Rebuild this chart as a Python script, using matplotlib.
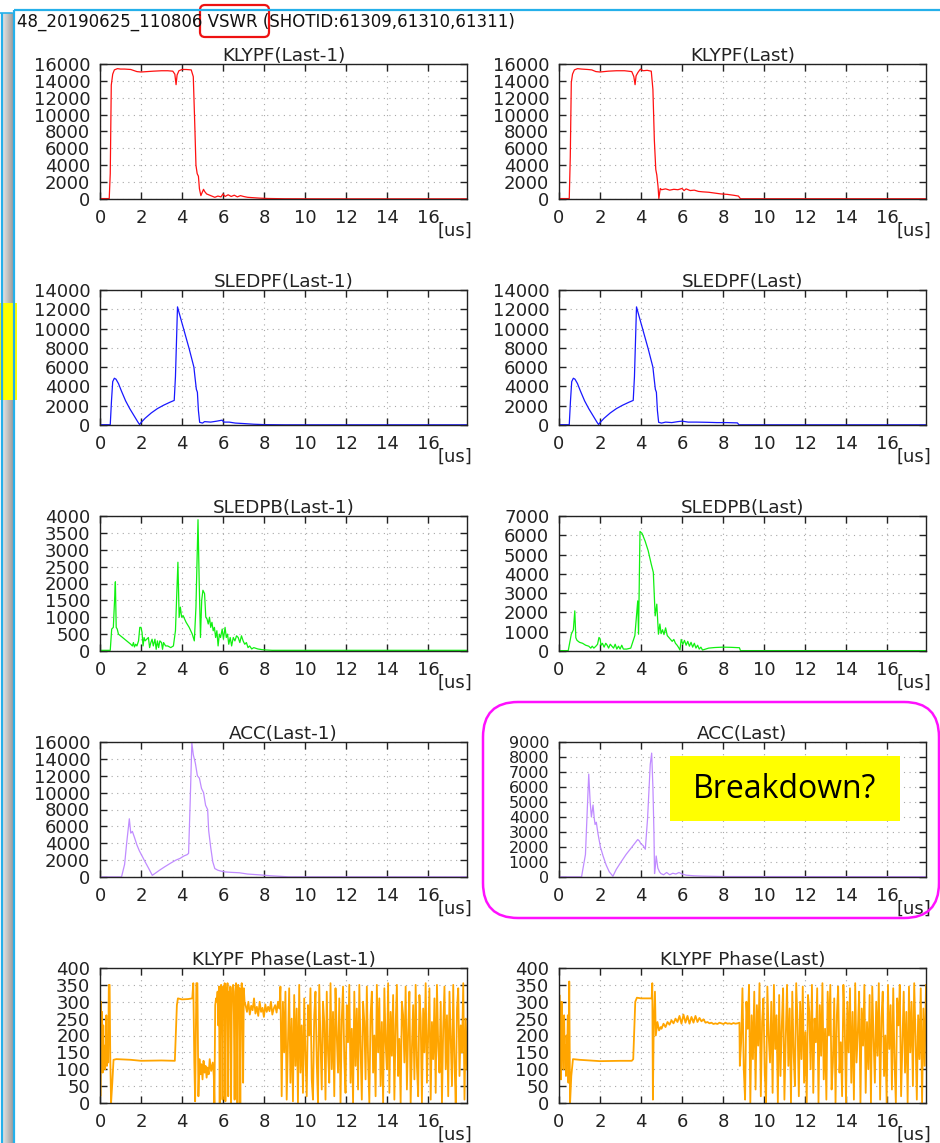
import numpy as np
import matplotlib
matplotlib.use('Agg')
import matplotlib.pyplot as plt
from matplotlib.patches import FancyBboxPatch, Rectangle
from matplotlib.transforms import offset_copy

# waveforms: (time [us], value) pairs
klypf_prev = [(0, 50), (0.45, 50), (0.5, 3000), (0.55, 13500), (0.62, 14800), (0.7, 15300), (0.85, 15450),
              (1.0, 15400), (1.2, 15400), (1.5, 15350), (1.8, 15100), (2.0, 15050), (2.3, 15100), (2.6, 15150),
              (3.0, 15200), (3.3, 15200), (3.55, 15150), (3.65, 14800), (3.71, 13550), (3.76, 14700),
              (3.85, 15200), (4.0, 15350), (4.2, 15350), (4.45, 15300), (4.55, 14500), (4.62, 9000),
              (4.68, 4000), (4.74, 3000), (4.8, 2700), (4.85, 1200), (4.92, 400), (4.97, 700), (5.05, 1150),
              (5.1, 900), (5.2, 600), (5.3, 500), (5.45, 350), (5.6, 200), (5.75, 350), (5.9, 250), (6.0, 600),
              (6.1, 300), (6.25, 500), (6.4, 300), (6.55, 450), (6.7, 250), (6.85, 400), (7.0, 300), (7.2, 200),
              (7.5, 150), (7.8, 100), (8.2, 60), (9.0, 30), (11.0, 20), (17.9, 20)]
klypf_last = [(0, 50), (0.5, 50), (0.55, 5000), (0.6, 13800), (0.66, 14800), (0.75, 15300), (0.9, 15450),
              (1.1, 15400), (1.4, 15350), (1.6, 15300), (1.8, 15100), (2.0, 15050), (2.4, 15150), (2.8, 15200),
              (3.2, 15200), (3.55, 15100), (3.65, 14500), (3.71, 13550), (3.76, 14600), (3.85, 15000),
              (3.97, 15400), (4.1, 15200), (4.3, 15250), (4.5, 15150), (4.58, 13000), (4.65, 7000), (4.72, 3500),
              (4.77, 2850), (4.83, 1500), (4.87, 50), (4.94, 1250), (5.0, 1100), (5.2, 1200), (5.4, 1050),
              (5.6, 1150), (5.8, 1100), (6.0, 1250), (6.1, 1000), (6.2, 1200), (6.4, 1000), (6.6, 1050),
              (6.8, 900), (7.0, 850), (7.3, 800), (7.6, 700), (7.9, 600), (8.2, 550), (8.5, 450), (8.75, 350),
              (8.85, 30), (9.0, 30), (17.9, 30)]

sledpf_prev = [(0, 30), (0.5, 30), (0.56, 2500), (0.62, 4500), (0.7, 4850), (0.78, 4750), (0.9, 4300),
               (1.05, 3500), (1.25, 2500), (1.45, 1700), (1.65, 1000), (1.85, 300), (1.93, 50), (2.0, 250),
               (2.2, 700), (2.5, 1250), (2.8, 1700), (3.1, 2050), (3.4, 2350), (3.62, 2550), (3.68, 5000),
               (3.78, 12250), (3.85, 11700), (4.1, 9800), (4.35, 7900), (4.58, 6000), (4.63, 5000), (4.7, 3700),
               (4.75, 3400), (4.8, 1500), (4.86, 280), (5.0, 200), (5.1, 350), (5.4, 300), (5.7, 400),
               (5.95, 500), (6.05, 300), (6.3, 300), (6.6, 200), (7.0, 150), (7.5, 80), (8.0, 40), (9.0, 20),
               (17.9, 20)]
sledpf_last = [(0, 30), (0.5, 30), (0.56, 2500), (0.62, 4500), (0.7, 4850), (0.78, 4750), (0.9, 4300),
               (1.05, 3500), (1.25, 2500), (1.45, 1700), (1.65, 1000), (1.85, 300), (1.93, 50), (2.0, 250),
               (2.2, 700), (2.5, 1250), (2.8, 1700), (3.1, 2050), (3.4, 2350), (3.62, 2550), (3.68, 5000),
               (3.78, 12250), (3.85, 11700), (4.1, 9800), (4.35, 7900), (4.58, 6000), (4.63, 5000), (4.7, 3700),
               (4.75, 3400), (4.8, 1500), (4.86, 280), (5.0, 200), (5.2, 300), (5.5, 250), (5.8, 350),
               (6.0, 400), (6.3, 300), (6.7, 300), (7.2, 280), (7.7, 250), (8.2, 250), (8.7, 220), (8.78, 20),
               (17.9, 20)]

sledpb_prev = [(0, 20), (0.5, 20), (0.57, 650), (0.65, 700), (0.71, 1500), (0.75, 2050), (0.79, 700),
               (0.84, 650), (0.9, 500), (1.0, 450), (1.1, 400), (1.2, 350), (1.3, 300), (1.4, 250), (1.5, 200),
               (1.58, 150), (1.63, 250), (1.68, 120), (1.74, 200), (1.8, 150), (1.88, 300), (1.94, 700),
               (2.0, 700), (2.05, 550), (2.1, 150), (2.15, 400), (2.2, 300), (2.28, 350), (2.36, 400), (2.42, 100),
               (2.48, 250), (2.54, 350), (2.6, 150), (2.68, 350), (2.74, 50), (2.8, 300), (2.86, 100), (2.92, 300),
               (3.0, 250), (3.05, 50), (3.1, 250), (3.2, 150), (3.3, 150), (3.45, 100), (3.58, 150), (3.68, 600),
               (3.8, 2630), (3.86, 1000), (3.92, 1300), (3.98, 1000), (4.05, 1050), (4.2, 850), (4.35, 700),
               (4.5, 500), (4.6, 300), (4.68, 1300), (4.78, 3890), (4.84, 2000), (4.9, 400), (4.96, 1500),
               (5.02, 1800), (5.1, 1700), (5.16, 1000), (5.22, 950), (5.28, 800), (5.34, 1000), (5.4, 700),
               (5.46, 850), (5.52, 600), (5.58, 700), (5.64, 400), (5.7, 600), (5.76, 150), (5.82, 500),
               (5.88, 400), (5.96, 650), (6.02, 350), (6.1, 700), (6.16, 400), (6.22, 500), (6.28, 200),
               (6.35, 400), (6.42, 150), (6.5, 400), (6.58, 300), (6.66, 450), (6.74, 400), (6.82, 250),
               (6.9, 450), (6.98, 300), (7.06, 200), (7.14, 250), (7.22, 100), (7.3, 150), (7.4, 60), (7.5, 100),
               (7.7, 60), (7.9, 40), (8.1, 30), (8.4, 20), (17.9, 20)]
sledpb_last = [(0, 20), (0.45, 20), (0.6, 870), (0.7, 1100), (0.77, 2080), (0.82, 690), (0.88, 550),
               (1.0, 450), (1.15, 400), (1.3, 300), (1.45, 250), (1.55, 150), (1.62, 250), (1.7, 150), (1.8, 250),
               (1.88, 350), (1.95, 700), (2.0, 650), (2.05, 300), (2.12, 400), (2.2, 200), (2.28, 400), (2.35, 300),
               (2.42, 150), (2.5, 350), (2.58, 250), (2.66, 150), (2.74, 350), (2.82, 100), (2.9, 250), (2.98, 100),
               (3.06, 300), (3.14, 100), (3.3, 100), (3.5, 150), (3.7, 800), (3.84, 2600), (3.88, 870),
               (3.95, 6200), (4.05, 6100), (4.2, 5700), (4.35, 5200), (4.5, 4500), (4.6, 4080), (4.69, 1820),
               (4.77, 2430), (4.85, 870), (4.92, 1400), (4.98, 900), (5.05, 1100), (5.12, 850), (5.2, 1200),
               (5.28, 800), (5.36, 700), (5.44, 600), (5.52, 500), (5.6, 600), (5.68, 400), (5.76, 300),
               (5.84, 170), (5.9, 50), (5.96, 600), (6.04, 350), (6.12, 550), (6.2, 300), (6.28, 500), (6.36, 250),
               (6.44, 450), (6.52, 200), (6.6, 400), (6.68, 150), (6.76, 300), (6.84, 100), (6.92, 200), (7.0, 50),
               (7.15, 100), (7.3, 150), (7.6, 180), (8.0, 200), (8.4, 190), (8.8, 170), (8.85, 20), (17.9, 20)]

acc_prev = [(0, 10), (1.05, 10), (1.2, 1500), (1.3, 4000), (1.43, 6900), (1.5, 5200), (1.58, 5400),
            (1.68, 4700), (1.8, 3800), (1.92, 3100), (2.05, 2500), (2.2, 1800), (2.4, 900), (2.55, 200),
            (2.7, 450), (2.9, 800), (3.15, 1200), (3.45, 1650), (3.7, 2000), (3.9, 2200), (4.1, 2500),
            (4.25, 2650), (4.32, 2800), (4.4, 9000), (4.48, 15900), (4.55, 14500), (4.65, 13500), (4.75, 12000),
            (4.85, 11700), (4.95, 10500), (5.05, 10000), (5.15, 8500), (5.25, 8000), (5.3, 5500), (5.4, 3500),
            (5.5, 1800), (5.6, 1000), (5.75, 800), (5.9, 700), (6.1, 600), (6.4, 550), (6.8, 500), (7.2, 350),
            (7.8, 250), (8.3, 150), (8.8, 80), (9.2, 20), (17.9, 20)]
acc_last = [(0, 10), (1.1, 10), (1.2, 800), (1.29, 1500), (1.45, 6860), (1.52, 5000), (1.58, 4000),
            (1.66, 4800), (1.72, 3900), (1.76, 3500), (1.82, 3650), (1.9, 2900), (1.94, 2600), (2.02, 2000),
            (2.15, 1400), (2.3, 800), (2.45, 350), (2.63, 50), (2.79, 500), (3.0, 950), (3.27, 1500),
            (3.5, 1900), (3.84, 2500), (3.92, 2400), (4.0, 2200), (4.1, 2100), (4.21, 1850), (4.32, 3900),
            (4.45, 7500), (4.52, 8260), (4.58, 6000), (4.63, 3000), (4.66, 230), (4.71, 900), (4.74, 1400),
            (4.82, 600), (4.9, 350), (4.97, 230), (5.1, 150), (5.25, 300), (5.4, 150), (5.55, 250), (5.7, 200),
            (5.85, 300), (6.0, 200), (6.2, 120), (6.6, 80), (7.0, 60), (8.0, 30), (17.9, 20)]

# klystron phase [deg]
phase_prev_head = [(0, 350), (0.02, 20), (0.05, 300), (0.08, 100), (0.1, 270), (0.13, 90), (0.16, 230),
                   (0.19, 120), (0.22, 170), (0.25, 100), (0.28, 140), (0.31, 260), (0.34, 110), (0.37, 180),
                   (0.4, 120), (0.43, 350), (0.47, 350), (0.5, 140), (0.54, 0), (0.6, 60), (0.66, 128),
                   (0.8, 130), (1.5, 128), (2.0, 125), (3.0, 126), (3.55, 125), (3.65, 125), (3.75, 290),
                   (3.8, 310), (4.0, 307), (4.3, 308), (4.5, 310), (4.55, 355), (4.6, 120), (4.64, 5), (4.7, 355),
                   (4.75, 355), (4.8, 20), (4.85, 130), (4.9, 85), (4.95, 115), (5.0, 70), (5.05, 125), (5.1, 90),
                   (5.15, 110), (5.2, 75), (5.25, 105), (5.3, 85), (5.35, 130), (5.42, 95), (5.5, 120), (5.55, 80),
                   (5.58, 0), (5.62, 290), (5.66, 310)]
phase_prev_burst = [300, 330, 230, 345, 0, 330, 350, 255, 10, 345, 300, 355, 5, 340, 310, 355, 20, 330, 290,
                    345, 0, 300, 340, 350, 260, 10, 330, 355, 300, 0, 350, 320, 340, 0, 310, 355, 280, 60, 340, 300]
phase_prev_ripple = [290, 270, 300, 262, 288, 275, 310, 265, 285, 258, 300, 270, 282, 255, 292, 270, 285, 272,
                     300, 262, 280, 290, 268, 300, 280]
phase_prev_tail = [345, 20, 300, 150, 330, 10, 180, 340, 60, 250, 5, 320, 110, 280, 0, 350, 90, 230, 30, 310,
                   140, 20, 290, 200, 340, 70, 10, 260, 330, 120, 0, 350, 180, 40, 300, 240, 10, 330, 150, 60,
                   355, 100, 270, 20, 340, 200, 90, 310, 0, 250, 345, 130, 30, 290, 180, 350, 60, 220, 0, 330,
                   110, 280, 40, 350, 160, 10, 300, 240, 70, 345, 130, 0, 260, 330, 90, 200, 20, 350, 150, 310,
                   50, 240, 0, 340, 180, 100, 355, 30, 270, 140, 320, 10, 230, 350, 80, 190, 0, 300, 260, 120,
                   345, 40, 210, 330, 0, 160, 290, 70, 350, 110, 20, 320, 250, 0, 280, 150, 355, 60, 200, 340,
                   10, 240, 130, 310, 30, 350, 170, 90, 300, 0, 220, 345, 100, 260, 20, 330, 190, 50, 350, 120,
                   0, 280, 340, 80, 230, 150, 355, 10, 250, 100]

phase_last_head = [(0, 50), (0.02, 320), (0.05, 100), (0.08, 280), (0.1, 70), (0.13, 300), (0.16, 140),
                   (0.19, 180), (0.22, 100), (0.25, 260), (0.28, 130), (0.31, 170), (0.34, 80), (0.37, 200),
                   (0.4, 150), (0.43, 260), (0.46, 60), (0.5, 360), (0.54, 0), (0.6, 80), (0.68, 130), (1.0, 128),
                   (1.5, 126), (2.0, 124), (3.0, 125), (3.55, 125), (3.62, 130), (3.72, 300), (3.8, 312),
                   (4.0, 310), (4.3, 310), (4.52, 310), (4.55, 355), (4.58, 10), (4.62, 230), (4.68, 330),
                   (4.72, 200), (4.8, 240), (4.88, 215), (4.96, 225)]
phase_last_ripple = [220, 235, 225, 240, 232, 245, 236, 250, 240, 258, 235, 262, 238, 258, 235, 255, 238, 258,
                     240, 252, 242, 248, 238, 240, 236, 238, 234, 236, 234, 238, 236, 234, 238, 235, 236, 234,
                     237, 235, 236, 238]
phase_last_tail = [110, 180, 340, 100, 10, 300, 220, 350, 0, 260, 130, 330, 40, 290, 170, 355, 20, 240, 310, 90,
                   0, 345, 200, 120, 300, 30, 350, 160, 260, 0, 320, 80, 230, 340, 10, 190, 350, 110, 280, 0,
                   330, 150, 50, 355, 240, 20, 300, 130, 345, 60, 210, 0, 320, 270, 100, 350, 30, 250, 180, 340,
                   0, 290, 140, 355, 70, 220, 10, 330, 200, 350, 40, 120, 310, 0, 260, 345, 90, 180, 20, 350,
                   230, 0, 300, 150, 340, 60, 270, 10, 355, 120, 210, 330, 0, 280, 170, 350, 30, 240, 100, 320,
                   0, 345, 190, 60, 300, 140, 355, 10, 250, 330, 80, 200, 0, 350, 160, 290, 40, 340, 120, 0,
                   310, 230, 350, 20, 180, 330, 90, 270, 0, 345, 150, 300, 50, 355, 200, 10, 260, 130, 340, 0,
                   280, 110, 350]


def pairs(p):
    a = np.array(p, dtype=float)
    return a[:, 0], a[:, 1]


def phase_trace(head, segments):
    t, y = pairs(head)
    ts, ys = [t], [y]
    for (t0, t1), vals in segments:
        ts.append(np.linspace(t0, t1, len(vals)))
        ys.append(np.array(vals, dtype=float))
    return np.concatenate(ts), np.concatenate(ys)


phase_prev = phase_trace(phase_prev_head, [((5.7, 7.05), phase_prev_burst),
                                           ((7.1, 8.75), phase_prev_ripple),
                                           ((8.8, 17.9), phase_prev_tail)])
phase_last = phase_trace(phase_last_head, [((5.0, 8.8), phase_last_ripple),
                                           ((8.82, 17.9), phase_last_tail)])

W, H = 940, 1143
fig = plt.figure(figsize=(W / 100, H / 100), dpi=100)
fig.patch.set_facecolor('white')

RED, BLUE, GREEN, PURPLE, ORANGE = '#ff1010', '#1818ff', '#10f010', '#c08cff', '#ffa500'

# title, trace, colour, ymax, ystep, left px, top px, linewidth, y label size
panels = [
    ('KLYPF(Last-1)', pairs(klypf_prev), RED, 16000, 2000, 100, 64, 0.9, 13),
    ('KLYPF(Last)', pairs(klypf_last), RED, 16000, 2000, 559, 64, 0.9, 13),
    ('SLEDPF(Last-1)', pairs(sledpf_prev), BLUE, 14000, 2000, 100, 290, 0.9, 13),
    ('SLEDPF(Last)', pairs(sledpf_last), BLUE, 14000, 2000, 559, 290, 0.9, 13),
    ('SLEDPB(Last-1)', pairs(sledpb_prev), GREEN, 4000, 500, 100, 516, 0.9, 13),
    ('SLEDPB(Last)', pairs(sledpb_last), GREEN, 7000, 1000, 559, 516, 0.9, 13),
    ('ACC(Last-1)', pairs(acc_prev), PURPLE, 16000, 2000, 100, 742, 0.9, 13),
    ('ACC(Last)', pairs(acc_last), PURPLE, 9000, 1000, 559, 742, 0.9, 11.5),
    ('KLYPF Phase(Last-1)', phase_prev, ORANGE, 400, 50, 100, 968, 1.3, 13),
    ('KLYPF Phase(Last)', phase_last, ORANGE, 400, 50, 559, 968, 1.3, 13),
]

for title, (t, y), color, ymax, ystep, left, top, lw, ysize in panels:
    ax = fig.add_axes([left / W, 1 - (top + 135) / H, 367 / W, 135 / H])
    ax.plot(t, y, color=color, lw=lw)
    ax.set_xlim(0, 17.9)
    ax.set_ylim(0, ymax)
    ax.set_xticks(np.arange(0, 17, 2))
    ax.set_yticks(np.arange(0, ymax + 1, ystep))
    ax.grid(True, color='#a8a8a8', linestyle=(0, (1, 4)), lw=0.8)
    ax.tick_params(direction='in', top=True, right=True, length=5, width=1.0,
                   labelsize=13, colors='#222222')
    ax.tick_params(axis='x', pad=7)
    ax.tick_params(axis='y', pad=7, labelsize=ysize)
    for s in ax.spines.values():
        s.set_linewidth(1.0)
        s.set_color('#222222')
    ax.set_title(title, fontsize=13.2, pad=2, color='#222222')
    ax.text(1, 0, '[us]', fontsize=13, ha='center', va='center', color='#222222',
            transform=offset_copy(ax.transAxes, fig, x=-12, y=-32, units='dots'))

# page frame and annotations in pixel coordinates
ov = fig.add_axes([0, 0, 1, 1], zorder=10)
ov.axis('off')
ov.patch.set_alpha(0)

ov.imshow(np.linspace(0.88, 0.62, 24)[None, :], cmap='gray', vmin=0, vmax=1,
          extent=(2.5, 12.5, H, 13), aspect='auto', interpolation='bilinear')
frame = '#25b0ea'
ov.plot([1.5, 1.5], [13, H], color=frame, lw=1.6, solid_capstyle='butt')
ov.plot([0, 12], [13, 13], color=frame, lw=1.2)
ov.plot([13.8, 13.8], [9.5, H], color=frame, lw=1.6, solid_capstyle='butt')
ov.plot([13.8, W], [9.5, 9.5], color=frame, lw=1.6, solid_capstyle='butt')
ov.set_xlim(0, W)
ov.set_ylim(H, 0)

ov.text(17, 21.5, '48_20190625_110806 VSWR (SHOTID:61309,61310,61311)', fontsize=12,
        va='center', ha='left', color='#111111')
ov.add_patch(FancyBboxPatch((200, 5), 69, 32, boxstyle='round,pad=0,rounding_size=5',
                            ec='#ee1111', fc='none', lw=1.6))

ov.add_patch(Rectangle((0, 303), 17, 97, fc='#ffff00', ec='none'))

ov.add_patch(FancyBboxPatch((483, 702), 456, 216, boxstyle='round,pad=0,rounding_size=35',
                            ec='#ff10ff', fc='none', lw=1.8))
ov.add_patch(Rectangle((670, 756), 230, 65, fc='#ffff00', ec='none'))
ov.text(785, 789, 'Breakdown?', fontsize=23, family='Open Sans', ha='center', va='center', color='black')

fig.savefig('out.png', dpi=100)
